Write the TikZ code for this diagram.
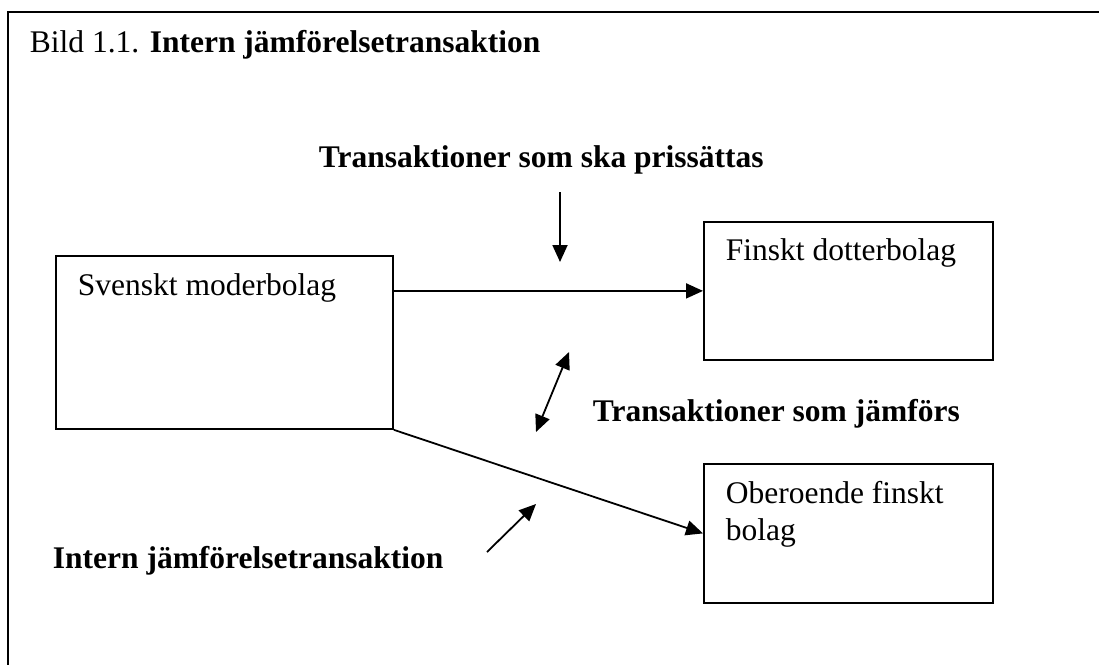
\documentclass[tikz,border=0pt]{standalone}
\usepackage{fontspec}
\setmainfont{Liberation Serif}
\usetikzlibrary{arrows.meta}
\begin{document}
\begin{tikzpicture}[x=1pt, y=-1pt, line width=1.8pt,
    font=\fontsize{31.5}{37}\selectfont,
    firma/.style={draw, rectangle, inner sep=0pt, anchor=north west},
    txt/.style={anchor=base west, inner sep=0pt, align=left},
    pil/.style={-{Triangle[length=17pt,width=15pt]}},
    dubbelpil/.style={{Triangle[length=17pt,width=15pt]}-{Triangle[length=17pt,width=15pt]}}]
  \clip (0,0) rectangle (1099,664);
  \draw (8,12) rectangle (1130,700);
  \node[txt] (T) at (29,52) {Bild 1.1. \textbf{Intern jämförelsetransaktion}};

  % bolagen
  \node[firma, minimum width=337pt, minimum height=173pt] (M) at (55,255) {};
  \node[firma, minimum width=289pt, minimum height=138pt] (D) at (703,221) {};
  \node[firma, minimum width=289pt, minimum height=139pt] (O) at (703,463) {};
  \node[txt] (Mt) at (77,295) {Svenskt moderbolag};
  \node[txt] (Dt) at (725,260) {Finskt dotterbolag};
  \node[txt] (Ot) at (725,540) {Oberoende finskt\\bolag};

  % transaktionerna
  \draw[pil] (M.east |- D.west) -- (D.west);
  \draw[pil] (M.south east) -- (O.west);

  % pilar till texterna
  \coordinate (p1) at (560,192);
  \coordinate (p2) at (560,262);
  \coordinate (j1) at (569,352);
  \coordinate (j2) at (536,432);
  \coordinate (i1) at (487,552);
  \coordinate (i2) at (536,504);
  \draw[pil] (p1) -- (p2);
  \draw[dubbelpil] (j1) -- (j2);
  \draw[pil] (i1) -- (i2);

  \node[txt] (Lp) at (318,167) {\textbf{Transaktioner som ska prissättas}};
  \node[txt] (Lj) at (592,421) {\textbf{Transaktioner som jämförs}};
  \node[txt] (Li) at (52,568) {\textbf{Intern jämförelsetransaktion}};
\end{tikzpicture}
\end{document}
